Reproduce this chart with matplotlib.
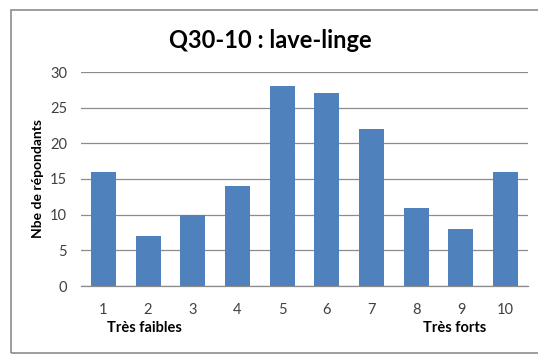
import matplotlib
matplotlib.use("Agg")
import matplotlib.pyplot as plt
from matplotlib.patches import Rectangle

categories = ["1", "2", "3", "4", "5", "6", "7", "8", "9", "10"]
values = [16, 7, 10, 14, 28, 27, 22, 11, 8, 16]
yticks = [0, 5, 10, 15, 20, 25, 30]

plt.rcParams['font.family'] = ['Lato', 'DejaVu Sans']

W, H = 538, 354
fig = plt.figure(figsize=(W / 100, H / 100), dpi=100)
fig.patch.set_facecolor("white")

# outer chart border
fig.add_artist(Rectangle((11 / W, 1 - 353 / H), (545 - 11) / W, (353 - 10) / H,
                         transform=fig.transFigure, fill=False,
                         edgecolor="#8c8c8c", linewidth=1.2, clip_on=False))

ax = fig.add_axes([81 / W, 1 - 286 / H, (528 - 81) / W, (286 - 72) / H])
x = range(len(categories))
ax.bar(x, values, width=0.56, color="#4F81BD", zorder=3)
ax.set_xlim(-0.5, len(categories) - 0.5)
ax.set_ylim(0, 30)
ax.set_yticks(yticks)
ax.set_xticks(list(x))
ax.set_xticklabels(categories)
ax.tick_params(axis="both", length=0, labelsize=10.5, colors="#404040")
ax.tick_params(axis="x", pad=12)
ax.tick_params(axis="y", pad=10)
ax.grid(axis="y", color="#8c8c8c", linewidth=0.9, zorder=0)
for s in ["top", "right", "left"]:
    ax.spines[s].set_visible(False)
ax.spines["bottom"].set_color("#8c8c8c")
ax.spines["bottom"].set_linewidth(0.9)

ax.set_ylabel("Nbe de répondants", fontsize=10, fontweight="bold", labelpad=4)

fig.text(270 / W, 1 - 40 / H, "Q30-10 : lave-linge", ha="center", va="center",
         fontsize=17, fontweight="bold")
fig.text(144 / W, 1 - 328 / H, "Très faibles", ha="center", va="center",
         fontsize=10.5, fontweight="bold")
fig.text(455 / W, 1 - 328 / H, "Très forts", ha="center", va="center",
         fontsize=10.5, fontweight="bold")

fig.savefig("out.png", dpi=100, facecolor="white")
